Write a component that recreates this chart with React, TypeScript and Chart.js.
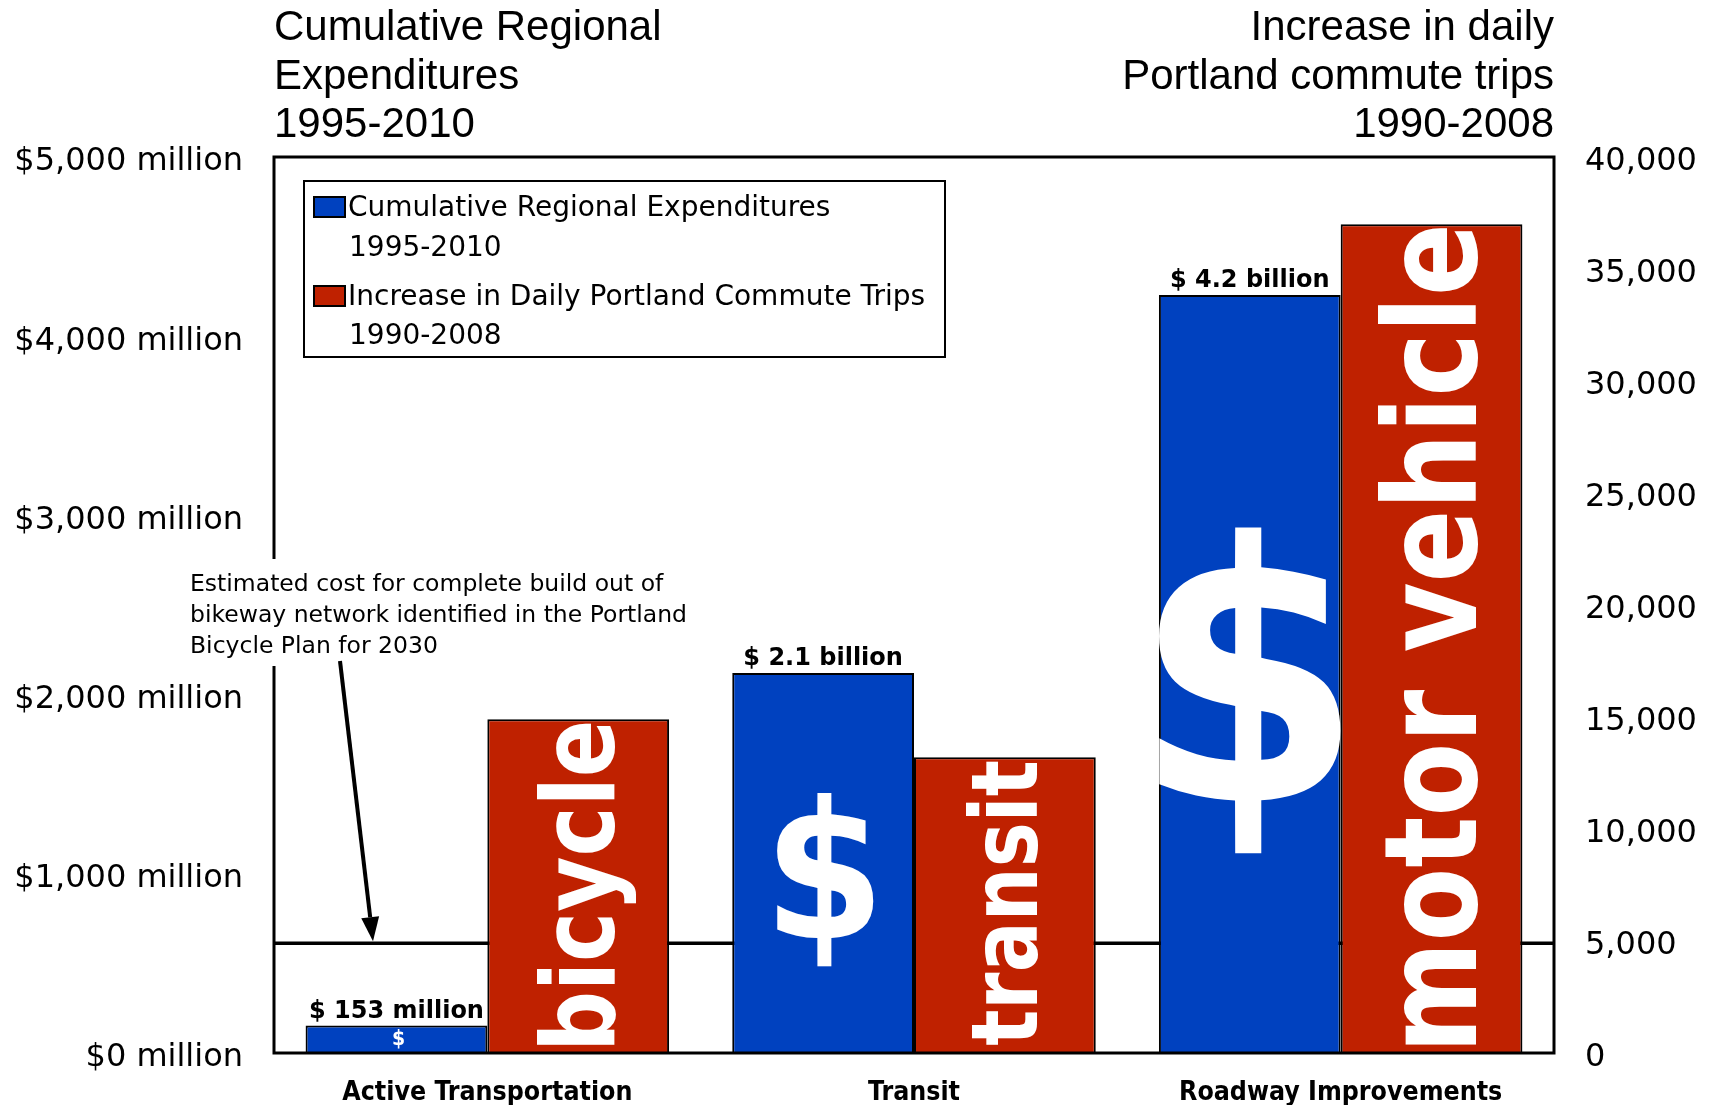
import React, { useEffect, useRef } from "react";
import { Chart, registerables } from "chart.js";

Chart.register(...registerables);

// ---------- data ----------
const categories = ["Active Transportation", "Transit", "Roadway Improvements"];
const expenditureMillions = [153, 2120, 4230];
const expenditureLabels = ["$ 153 million", "$ 2.1 billion", "$ 4.2 billion"];
const commuteTripIncrease = [14900, 13200, 37000];
const modeWords = ["bicycle", "transit", "motor vehicle"];
const bikePlanCostMillions = 613;

const leftAxisMax = 5000;
const leftAxisStep = 1000;
const rightAxisMax = 40000;
const rightAxisStep = 5000;

const seriesNames = [
  ["Cumulative Regional Expenditures", "1995-2010"],
  ["Increase in Daily Portland Commute Trips", "1990-2008"],
];
const leftTitle = ["Cumulative Regional", "Expenditures", "1995-2010"];
const rightTitle = ["Increase in daily", "Portland commute trips", "1990-2008"];
const annotationLines = [
  "Estimated cost for complete build out of",
  "bikeway network identified in the Portland",
  "Bicycle Plan for 2030",
];

// ---------- styles ----------
const BLUE = "#0041BF";
const RED = "#BF2100";
const COND = '"DejaVu Sans Condensed", "DejaVu Sans", sans-serif';
const DJV = '"DejaVu Sans", sans-serif';
const SANS = '"Liberation Sans", Arial, sans-serif';
const BOLD = '"DejaVu Sans", sans-serif';
const wordFontSizes = [102, 93, 128];
const dollarInkHeights = [20, 173, 327];
const dollarOffsets = [0, 17, 17];

function drawVerticalWord(ctx: CanvasRenderingContext2D, text: string, cx: number, bottom: number, top: number, fs: number) {
  ctx.save();
  ctx.font = `bold ${fs}px ${BOLD}`;
  const m = ctx.measureText(text);
  const inkW = m.actualBoundingBoxLeft + m.actualBoundingBoxRight;
  const padB = 8, padT = 4;
  const avail = bottom - top - padB - padT;
  const sx = Math.min(1, avail / inkW);
  ctx.translate(cx + 0.35 * fs, bottom - padB);
  ctx.rotate(-Math.PI / 2);
  ctx.scale(sx, 1);
  ctx.fillStyle = "#fff";
  ctx.textAlign = "left";
  ctx.textBaseline = "alphabetic";
  ctx.fillText(text, m.actualBoundingBoxLeft, 0);
  ctx.restore();
}

function drawDollar(ctx: CanvasRenderingContext2D, cx: number, cy: number, inkH: number) {
  ctx.save();
  const probe = 100;
  ctx.font = `bold ${probe}px ${BOLD}`;
  let m = ctx.measureText("$");
  const h0 = m.actualBoundingBoxAscent + m.actualBoundingBoxDescent;
  const fs = (probe * inkH) / h0;
  ctx.font = `bold ${fs}px ${BOLD}`;
  m = ctx.measureText("$");
  const asc = m.actualBoundingBoxAscent, desc = m.actualBoundingBoxDescent;
  const inkW = m.actualBoundingBoxLeft + m.actualBoundingBoxRight;
  const sx = Math.min(1, (0.56 * (asc + desc)) / inkW);
  ctx.translate(cx, cy + (asc - desc) / 2);
  ctx.scale(sx, 1);
  ctx.fillStyle = "#fff";
  ctx.textAlign = "left";
  ctx.textBaseline = "alphabetic";
  const inkCenter = (m.actualBoundingBoxRight - m.actualBoundingBoxLeft) / 2;
  ctx.fillText("$", -inkCenter, 0);
  ctx.restore();
}

const decorPlugin = {
  id: "decor",
  beforeDatasetsDraw(chart: any) {
    const { ctx, chartArea, scales } = chart;
    const y = scales.y.getPixelForValue(bikePlanCostMillions);
    ctx.save();
    ctx.strokeStyle = "#000";
    ctx.lineWidth = 3.5;
    ctx.beginPath();
    ctx.moveTo(chartArea.left, y);
    ctx.lineTo(chartArea.right, y);
    ctx.stroke();
    ctx.restore();
  },
  afterDatasetsDraw(chart: any) {
    const { ctx, chartArea, scales } = chart;
    const blueMeta = chart.getDatasetMeta(0);
    const redMeta = chart.getDatasetMeta(1);

    // words in red bars
    redMeta.data.forEach((bar: any, i: number) => {
      drawVerticalWord(ctx, modeWords[i], bar.x, bar.base, bar.y, wordFontSizes[i]);
    });
    // dollar signs and value labels on blue bars
    blueMeta.data.forEach((bar: any, i: number) => {
      drawDollar(ctx, bar.x + 2, (bar.y + bar.base) / 2 + dollarOffsets[i], dollarInkHeights[i]);
      ctx.save();
      ctx.font = `bold 24px ${BOLD}`;
      ctx.fillStyle = "#000";
      ctx.textAlign = "center";
      ctx.textBaseline = "alphabetic";
      ctx.fillText(expenditureLabels[i], bar.x, bar.y - 8);
      ctx.restore();
    });

    // plot frame
    ctx.save();
    ctx.strokeStyle = "#000";
    ctx.lineWidth = 3;
    ctx.strokeRect(chartArea.left, chartArea.top, chartArea.right - chartArea.left, chartArea.bottom - chartArea.top);
    ctx.restore();

    // annotation text with white background
    const ax = chartArea.left - 84;
    const ay0 = 585;
    const lh = 31;
    ctx.save();
    ctx.fillStyle = "#fff";
    ctx.fillRect(ax - 4, ay0 - 26, 520, lh * 3 + 14);
    ctx.font = `23.5px ${DJV}`;
    ctx.fillStyle = "#000";
    ctx.textAlign = "left";
    ctx.textBaseline = "middle";
    annotationLines.forEach((t, k) => ctx.fillText(t, ax, ay0 + k * lh));
    // arrow
    const lineY = scales.y.getPixelForValue(bikePlanCostMillions);
    const sx0 = chartArea.left + 66, sy0 = ay0 + 2 * lh + 14;
    const tx = chartArea.left + 99, ty = lineY - 2;
    const ang = Math.atan2(ty - sy0, tx - sx0);
    const headL = 24, headW = 9;
    const bx = tx - headL * Math.cos(ang), by = ty - headL * Math.sin(ang);
    ctx.strokeStyle = "#000";
    ctx.lineWidth = 4;
    ctx.beginPath();
    ctx.moveTo(sx0, sy0);
    ctx.lineTo(bx, by);
    ctx.stroke();
    ctx.fillStyle = "#000";
    ctx.beginPath();
    ctx.moveTo(tx, ty);
    ctx.lineTo(bx + headW * Math.sin(ang), by - headW * Math.cos(ang));
    ctx.lineTo(bx - headW * Math.sin(ang), by + headW * Math.cos(ang));
    ctx.closePath();
    ctx.fill();
    ctx.restore();

    // legend
    const lx = chartArea.left + 30, ly = chartArea.top + 24;
    const lw = 641, lhgt = 176;
    ctx.save();
    ctx.fillStyle = "#fff";
    ctx.fillRect(lx, ly, lw, lhgt);
    ctx.strokeStyle = "#000";
    ctx.lineWidth = 2;
    ctx.strokeRect(lx, ly, lw, lhgt);
    const colors = [BLUE, RED];
    const rowY = [[209, 249], [298, 337]];
    seriesNames.forEach((lines, s) => {
      const y1 = rowY[s][0] - 181 + ly;
      const y2 = rowY[s][1] - 181 + ly;
      ctx.fillStyle = colors[s];
      ctx.fillRect(lx + 10, y1 - 12, 31, 20);
      ctx.strokeStyle = "#000";
      ctx.lineWidth = 2;
      ctx.strokeRect(lx + 10, y1 - 12, 31, 20);
      ctx.fillStyle = "#000";
      ctx.font = `28px ${DJV}`;
      ctx.textAlign = "left";
      ctx.textBaseline = "middle";
      ctx.fillText(lines[0], lx + 44, y1);
      ctx.fillText(lines[1], lx + 45, y2);
    });
    ctx.restore();

    // titles
    ctx.save();
    ctx.font = `42px ${SANS}`;
    ctx.fillStyle = "#000";
    ctx.textBaseline = "middle";
    const ty0 = [28, 77, 125];
    ctx.textAlign = "left";
    leftTitle.forEach((t, k) => ctx.fillText(t, chartArea.left, ty0[k]));
    ctx.textAlign = "right";
    rightTitle.forEach((t, k) => ctx.fillText(t, chartArea.right, ty0[k]));
    ctx.restore();
  },
};

export default function App() {
  const ref = useRef<HTMLCanvasElement | null>(null);
  useEffect(() => {
    if (!ref.current) return;
    const chart = new Chart(ref.current, {
      type: "bar",
      data: {
        labels: categories,
        datasets: [
          {
            label: seriesNames[0].join(" "),
            data: expenditureMillions,
            yAxisID: "y",
            backgroundColor: BLUE,
            borderColor: "#000",
            borderWidth: 2,
            categoryPercentage: 0.852,
            barPercentage: 1,
          },
          {
            label: seriesNames[1].join(" "),
            data: commuteTripIncrease,
            yAxisID: "y2",
            backgroundColor: RED,
            borderColor: "#000",
            borderWidth: 2,
            categoryPercentage: 0.852,
            barPercentage: 1,
          },
        ],
      },
      options: {
        responsive: false,
        animation: false,
        devicePixelRatio: 1,
        layout: { padding: { top: 157, left: 0, right: 0, bottom: 0 } },
        plugins: { legend: { display: false }, tooltip: { enabled: false } },
        scales: {
          x: {
            grid: { display: false, drawTicks: false },
            border: { display: false },
            ticks: { color: "#000", font: { family: COND, size: 26.5, weight: "bold" }, padding: 24, maxRotation: 0 },
            afterFit: (s: any) => { s.height = 52; },
          },
          y: {
            position: "left",
            min: 0,
            max: leftAxisMax,
            grid: { display: false, drawTicks: false },
            border: { display: false },
            ticks: {
              stepSize: leftAxisStep,
              color: "#000",
              font: { family: DJV, size: 32 },
              padding: 31,
              labelOffset: 5,
              callback: (v: any) => `$${Number(v).toLocaleString("en-US")} million`,
            },
            afterFit: (s: any) => { s.width = 274; },
          },
          y2: {
            position: "right",
            min: 0,
            max: rightAxisMax,
            grid: { display: false, drawTicks: false },
            border: { display: false },
            ticks: {
              stepSize: rightAxisStep,
              color: "#000",
              font: { family: DJV, size: 32 },
              padding: 31,
              labelOffset: 5,
              callback: (v: any) => Number(v).toLocaleString("en-US"),
            },
            afterFit: (s: any) => { s.width = 157; },
          },
        },
      },
      plugins: [decorPlugin],
    });
    return () => chart.destroy();
  }, []);
  return (
    <div style={{ position: "absolute", left: 0, top: 0, width: 1711, height: 1105, background: "#fff" }}>
      <canvas ref={ref} width={1711} height={1105} style={{ display: "block" }} />
    </div>
  );
}
